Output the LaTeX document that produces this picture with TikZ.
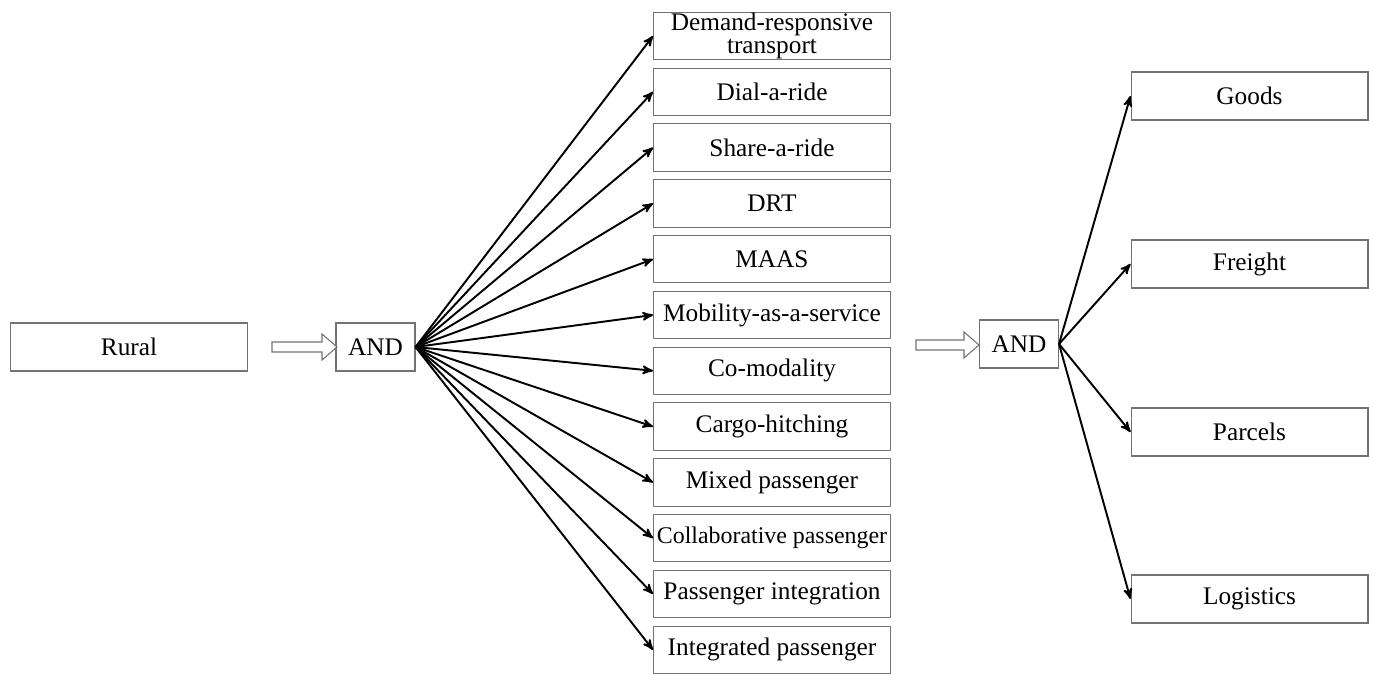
\documentclass[tikz,border=0pt]{standalone}
\usepackage{fontspec}
\setmainfont{Liberation Serif}
\usetikzlibrary{positioning}
\usetikzlibrary{calc}
\usetikzlibrary{arrows}
\tikzset{
  termbox/.style={draw=black!55, line width=0.6pt, inner sep=1pt, align=center,
    minimum height=0.96cm, font=\fontsize{14.4}{13}\selectfont},
  widebox/.style={termbox, minimum width=4.74cm},
  andbox/.style={termbox, minimum width=1.58cm},
  fanarrow/.style={-stealth', line width=1.1pt},
  hollow/.style={draw=black!55, line width=0.6pt, fill=white}
}
\begin{document}
\begin{tikzpicture}[x=0.02cm,y=-0.02cm]
\useasboundingbox (0,0) rectangle (1374,675);
% left part
\node [widebox] (rural) at (129,347) {Rural};
\node [andbox] (andA) at (375.5,347) {AND};
\coordinate (hollowA) at (272,347);
\draw [hollow] (hollowA) ++(0,-5) -- ++(50,0) -- ++(0,-8) -- ++(15,13) -- ++(-15,13) -- ++(0,-8) -- ++(-50,0) -- cycle;
% services
\foreach \txt [count=\i from 0] in {{Demand-responsive\\transport}, Dial-a-ride, Share-a-ride, DRT, MAAS,
  Mobility-as-a-service, Co-modality, Cargo-hitching, Mixed passenger,
  {\fontsize{13.6}{13}\selectfont Collaborative passenger}, Passenger integration, Integrated passenger}
{
  \node [widebox, minimum height=0.95cm, inner sep=0pt] (svc\i) at (772,36+55.8*\i) {\txt};
  \draw [fanarrow] (andA.east) -- (svc\i.west);
}
% right part
\coordinate (hollowB) at (916,345);
\draw [hollow] (hollowB) ++(0,-5) -- ++(48,0) -- ++(0,-8) -- ++(15,13) -- ++(-15,13) -- ++(0,-8) -- ++(-48,0) -- cycle;
\node [andbox] (andB) at (1019,344) {AND};
\foreach \txt/\y [count=\j] in {Goods/96, Freight/264, Parcels/432, Logistics/599}
{
  \node [widebox] (cargo\j) at (1249.5,\y) {\txt};
  \draw [fanarrow] (andB.east) -- (cargo\j.west);
}
\end{tikzpicture}
\end{document}
